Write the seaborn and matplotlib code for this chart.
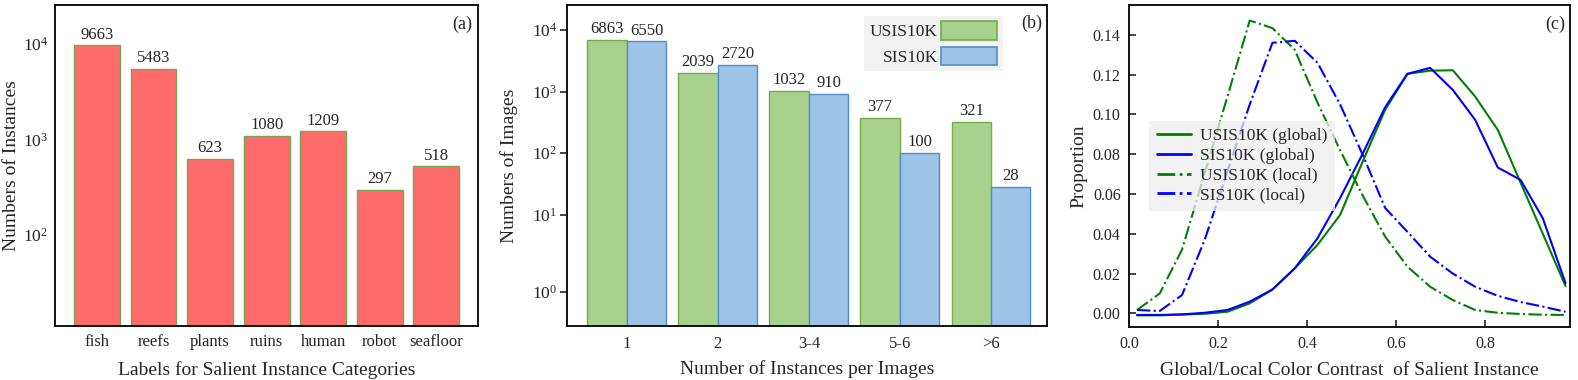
import matplotlib.pyplot as plt
import matplotlib.patches as mpatches
from matplotlib.ticker import NullLocator, FixedLocator, LogFormatterSciNotation
import pandas as pd
import seaborn as sns

# (a) salient instances per category
categories = ['fish', 'reefs', 'plants', 'ruins', 'human', 'robot', 'seafloor']
instance_counts = [9663, 5483, 623, 1080, 1209, 297, 518]

# (b) number of instances per image
inst_groups = ['1', '2', '3-4', '5-6', '>6']
usis10k_images = [6863, 2039, 1032, 377, 321]
sis10k_images = [6550, 2720, 910, 100, 28]

# (c) global / local colour contrast distribution
contrast = [0.018, 0.069, 0.119, 0.170, 0.221, 0.271, 0.322, 0.372, 0.423, 0.474,
            0.524, 0.575, 0.625, 0.676, 0.727, 0.777, 0.828, 0.879, 0.929, 0.980]
usis_global = [-0.0010, -0.0010, -0.0006, -0.0002, 0.0008, 0.0050, 0.0120, 0.0226, 0.0344, 0.0495,
               0.0760, 0.1023, 0.1204, 0.1220, 0.1222, 0.1090, 0.0922, 0.0657, 0.0400, 0.0137]
sis_global = [-0.0008, -0.0008, -0.0005, 0.0003, 0.0017, 0.0059, 0.0120, 0.0226, 0.0377, 0.0580,
              0.0800, 0.1036, 0.1204, 0.1234, 0.1123, 0.0973, 0.0733, 0.0671, 0.0478, 0.0151]
usis_local = [0.0017, 0.0100, 0.0320, 0.0705, 0.1090, 0.1472, 0.1434, 0.1325, 0.1060, 0.0820,
              0.0595, 0.0386, 0.0235, 0.0134, 0.0067, 0.0017, 0.0003, -0.0003, -0.0007, -0.0008]
sis_local = [0.0017, 0.0012, 0.0092, 0.0370, 0.0714, 0.1050, 0.1360, 0.1370, 0.1260, 0.1050,
             0.0800, 0.0530, 0.0410, 0.0285, 0.0200, 0.0134, 0.0088, 0.0057, 0.0034, 0.0008]

sns.set_theme(style='ticks')
plt.rcParams['font.family'] = ['Liberation Serif', 'DejaVu Serif']
plt.rcParams['mathtext.fontset'] = 'stix'
plt.rcParams['axes.linewidth'] = 1.3
plt.rcParams['axes.edgecolor'] = 'black'

fig = plt.figure(figsize=(15.78, 3.8), dpi=100)

# ---------- (a)
ax1 = fig.add_axes([0.03485, 0.14211, 0.26787, 0.84474])
sns.barplot(x=categories, y=instance_counts, color='#ff6b6b', saturation=1,
            width=0.81, edgecolor='#76a652', linewidth=1, ax=ax1)
ax1.set_yscale('log')
ax1.set_ylim(11, 25600)
ax1.set_xlim(-0.74, 6.73)
ax1.yaxis.set_minor_locator(NullLocator())
for c in ax1.containers:
    ax1.bar_label(c, padding=2, fontsize=12)
ax1.tick_params(axis='x', labelsize=12, length=0, pad=6)
ax1.tick_params(axis='y', labelsize=12.5, length=0, pad=5)
ax1.set_xlabel('Labels for Salient Instance Categories', fontsize=14, labelpad=8)
ax1.set_ylabel('Numbers of Instances', fontsize=14, labelpad=2)
ax1.text(0.986, 0.94, '(a)', transform=ax1.transAxes, ha='right', va='center', fontsize=13)

# ---------- (b)
ax2 = fig.add_axes([0.35913, 0.14211, 0.30456, 0.84474])
df_b = pd.DataFrame({
    'group': inst_groups * 2,
    'count': usis10k_images + sis10k_images,
    'dataset': ['USIS10K'] * len(inst_groups) + ['SIS10K'] * len(inst_groups),
})
fills = ['#a9d18e', '#9dc3e6']
edges = ['#70ad47', '#4f8fd0']
sns.barplot(data=df_b, x='group', y='count', hue='dataset', hue_order=['USIS10K', 'SIS10K'],
            palette=fills, saturation=1, width=0.865, linewidth=1, legend=False, ax=ax2)
for cont, ec in zip(ax2.containers, edges):
    for bar in cont:
        bar.set_edgecolor(ec)
    ax2.bar_label(cont, padding=2, fontsize=12)
ax2.set_yscale('symlog', linthresh=2)
ax2.set_ylim(0, 25500)
ax2.set_xlim(-0.66, 4.62)
ax2.yaxis.set_major_locator(FixedLocator([1, 10, 100, 1000, 10000]))
ax2.yaxis.set_major_formatter(LogFormatterSciNotation())
ax2.yaxis.set_minor_locator(NullLocator())
ax2.tick_params(axis='y', labelsize=12.5, direction='out', length=5, width=1.2, pad=2)
ax2.tick_params(axis='x', labelsize=12, length=0, pad=7)
ax2.set_xlabel('Number of Instances per Images', fontsize=14, labelpad=6)
ax2.set_ylabel('Numbers of Images', fontsize=14, labelpad=10)
handles = [mpatches.Patch(facecolor=f, edgecolor=e, linewidth=1.2, label=l)
           for f, e, l in zip(fills, edges, ['USIS10K', 'SIS10K'])]
ax2.legend(handles=handles, loc='upper right', bbox_to_anchor=(0.907, 0.967),
           markerfirst=False, fontsize=12.5, handlelength=3.2, handleheight=1.25,
           handletextpad=0.2, labelspacing=0.38, borderpad=0.32, borderaxespad=0,
           frameon=True, fancybox=False, facecolor='#f2f2f2', edgecolor='none', framealpha=1)
ax2.text(0.989, 0.942, '(b)', transform=ax2.transAxes, ha='right', va='center', fontsize=13)

# ---------- (c)
ax3 = fig.add_axes([0.71546, 0.14026, 0.27947, 0.84658])
curves = [
    ('USIS10K (global)', usis_global, 'green', '-'),
    ('SIS10K (global)', sis_global, 'blue', '-'),
    ('USIS10K (local)', usis_local, 'green', '-.'),
    ('SIS10K (local)', sis_local, 'blue', '-.'),
]
for label, vals, col, ls in curves:
    sns.lineplot(x=contrast, y=vals, color=col, linestyle=ls, linewidth=1.5, label=label, ax=ax3)
ax3.set_xlim(0, 0.99)
ax3.set_ylim(-0.0067, 0.155)
ax3.set_xticks([0.0, 0.2, 0.4, 0.6, 0.8])
ax3.set_yticks([0.00, 0.02, 0.04, 0.06, 0.08, 0.10, 0.12, 0.14])
ax3.xaxis.set_major_formatter(plt.FuncFormatter(lambda v, p: f'{v:.1f}'))
ax3.yaxis.set_major_formatter(plt.FuncFormatter(lambda v, p: f'{v:.2f}'))
ax3.tick_params(axis='both', labelsize=11.5, direction='in', length=5, width=1.2)
ax3.tick_params(axis='y', pad=6)
ax3.tick_params(axis='x', pad=7)
ax3.set_xlabel('Global/Local Color Contrast  of Salient Instance', fontsize=14, labelpad=7)
ax3.set_ylabel('Proportion', fontsize=14, labelpad=4)
leg = ax3.legend(loc='center left', bbox_to_anchor=(0.045, 0.5), borderaxespad=0,
                 fontsize=12.5, handlelength=2, handletextpad=0.5, labelspacing=0.2,
                 borderpad=0.45, frameon=True, fancybox=False, facecolor='#eeeeee',
                 edgecolor='none', framealpha=0.75)
for ln in leg.get_lines():
    ln.set_linewidth(2)
ax3.text(0.99, 0.94, '(c)', transform=ax3.transAxes, ha='right', va='center', fontsize=13)

fig.savefig('out.png', dpi=100)
